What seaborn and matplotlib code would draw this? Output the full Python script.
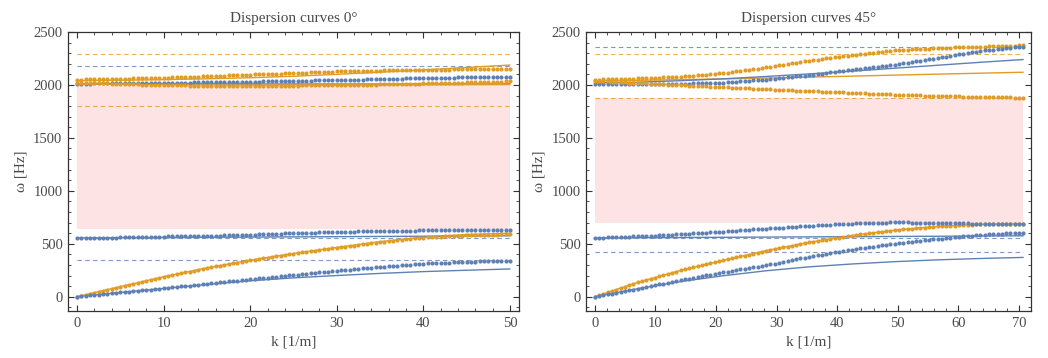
import numpy as np
import seaborn as sns
import matplotlib.pyplot as plt
from matplotlib.ticker import MultipleLocator

# ---- data ----------------------------------------------------------------
# panel 0 degrees: k from 0 to 50, dots every 0.5, lines every 5
k_dots_0 = np.linspace(0, 50, 101)
k_line_0 = np.linspace(0, 50, 11)

orange_low_dots_0 = [
    0, 10, 19, 29, 38, 48, 57, 67, 76, 86,
    95, 104, 114, 123, 132, 142, 151, 160, 169, 179,
    188, 196, 205, 213, 222, 230, 238, 247, 255, 264,
    272, 279, 287, 294, 301, 308, 316, 323, 330, 338,
    345, 351, 358, 364, 370, 377, 383, 389, 395, 402,
    408, 413, 419, 424, 430, 435, 440, 446, 451, 457,
    462, 467, 473, 478, 483, 488, 494, 499, 504, 510,
    515, 519, 524, 528, 532, 537, 541, 545, 550, 554,
    558, 560, 562, 565, 567, 569, 571, 573, 576, 578,
    580, 581, 582, 583, 584, 585, 586, 587, 588, 589,
    590]
blue_low_dots_0 = [
    0, 4, 8, 12, 16, 20, 24, 28, 32, 36,
    40, 44, 48, 52, 56, 60, 64, 68, 72, 76,
    80, 84, 88, 93, 97, 101, 105, 109, 114, 118,
    122, 126, 131, 135, 139, 144, 148, 152, 156, 161,
    165, 169, 173, 177, 181, 185, 189, 193, 197, 201,
    205, 209, 213, 217, 221, 225, 229, 233, 237, 241,
    245, 249, 252, 256, 260, 264, 267, 271, 275, 278,
    282, 285, 288, 291, 294, 297, 300, 303, 306, 309,
    312, 314, 316, 317, 319, 321, 323, 325, 326, 328,
    330, 331, 332, 333, 334, 335, 336, 337, 338, 339,
    340]
blue_mid_dots_0 = [
    553, 553, 554, 555, 556, 556, 557, 558, 559, 559,
    560, 561, 562, 562, 563, 564, 565, 566, 566, 567,
    568, 569, 569, 570, 571, 571, 572, 573, 573, 574,
    575, 576, 577, 578, 579, 580, 581, 582, 583, 584,
    585, 586, 588, 589, 591, 592, 594, 595, 597, 598,
    600, 601, 602, 604, 605, 606, 607, 608, 610, 611,
    612, 613, 614, 614, 615, 616, 617, 618, 618, 619,
    620, 621, 621, 622, 623, 623, 624, 625, 625, 626,
    627, 627, 628, 628, 628, 628, 629, 629, 629, 630,
    630, 630, 630, 631, 631, 631, 631, 632, 632, 632,
    632]
orange_top_dots_0 = [
    2050, 2051, 2052, 2052, 2053, 2054, 2055, 2056, 2056, 2057,
    2058, 2059, 2060, 2061, 2062, 2063, 2064, 2065, 2066, 2067,
    2068, 2069, 2071, 2072, 2074, 2075, 2076, 2078, 2079, 2081,
    2082, 2084, 2085, 2087, 2088, 2090, 2091, 2093, 2094, 2096,
    2097, 2099, 2100, 2102, 2103, 2105, 2106, 2108, 2109, 2111,
    2112, 2114, 2115, 2117, 2118, 2120, 2122, 2123, 2125, 2126,
    2128, 2129, 2130, 2130, 2131, 2132, 2133, 2134, 2134, 2135,
    2136, 2137, 2137, 2138, 2139, 2139, 2140, 2141, 2141, 2142,
    2143, 2143, 2144, 2144, 2145, 2145, 2145, 2146, 2146, 2147,
    2147, 2147, 2148, 2148, 2148, 2148, 2149, 2149, 2149, 2150,
    2150]
blue_top_dots_0 = [
    2012, 2012, 2013, 2013, 2014, 2014, 2014, 2015, 2015, 2015,
    2015, 2016, 2016, 2017, 2017, 2018, 2018, 2019, 2019, 2020,
    2020, 2021, 2021, 2022, 2022, 2023, 2023, 2024, 2024, 2025,
    2025, 2026, 2026, 2027, 2027, 2028, 2029, 2029, 2030, 2030,
    2031, 2032, 2032, 2033, 2034, 2035, 2035, 2036, 2037, 2037,
    2038, 2039, 2039, 2040, 2041, 2042, 2042, 2043, 2044, 2044,
    2045, 2046, 2047, 2048, 2049, 2050, 2051, 2052, 2053, 2054,
    2055, 2056, 2057, 2058, 2059, 2060, 2061, 2062, 2063, 2064,
    2065, 2066, 2066, 2067, 2068, 2069, 2069, 2070, 2071, 2071,
    2072, 2073, 2073, 2074, 2074, 2075, 2076, 2076, 2077, 2077,
    2078]
orange_mid_dots_0 = [
    2022, 2021, 2020, 2018, 2017, 2016, 2015, 2014, 2012, 2011,
    2010, 2009, 2008, 2006, 2005, 2004, 2003, 2002, 2000, 1999,
    1998, 1997, 1997, 1996, 1996, 1995, 1994, 1994, 1993, 1993,
    1992, 1992, 1992, 1992, 1992, 1992, 1992, 1992, 1992, 1992,
    1992, 1992, 1992, 1993, 1993, 1993, 1993, 1993, 1994, 1994,
    1994, 1994, 1995, 1995, 1996, 1996, 1996, 1997, 1997, 1998,
    1998, 1999, 1999, 2000, 2001, 2002, 2002, 2003, 2004, 2004,
    2005, 2006, 2007, 2008, 2009, 2010, 2010, 2011, 2012, 2013,
    2014, 2015, 2016, 2017, 2018, 2019, 2020, 2021, 2022, 2023,
    2024, 2025, 2026, 2027, 2028, 2029, 2030, 2031, 2032, 2033,
    2034]

orange_low_line_0 = [0, 95, 188, 272, 345, 408, 465, 520, 562, 588, 600]
blue_low_line_0 = [0, 40, 78, 115, 150, 178, 200, 220, 237, 250, 262]
blue_mid_line_0 = [555, 557, 559, 561, 563, 565, 567, 569, 571, 573, 575]
orange_top_line_0 = [2040, 2044, 2050, 2058, 2068, 2082, 2100, 2120, 2142, 2165, 2188]
blue_top_line_0 = [2012, 2011, 2010, 2010, 2009, 2009, 2009, 2009, 2009, 2010, 2010]
orange_mid_line_0 = [2010, 2005, 2002, 2000, 1999, 1999, 1999, 1999, 2000, 2001, 2002]

orange_dashed_0 = [2290, 1805]
blue_dashed_0 = [2178, 555, 345]
gap_0 = (635, 1990)

# panel 45 degrees: k from 0 to 50*sqrt(2)
k_dots_45 = np.linspace(0, 70.71, 101)
k_line_45 = np.linspace(0, 70.71, 11)

orange_top_dots_45 = [
    2050, 2051, 2052, 2053, 2054, 2056, 2057, 2058, 2059, 2060,
    2061, 2063, 2064, 2066, 2067, 2069, 2071, 2072, 2074, 2075,
    2077, 2081, 2084, 2088, 2091, 2095, 2098, 2102, 2105, 2109,
    2112, 2117, 2123, 2128, 2134, 2139, 2144, 2150, 2155, 2161,
    2166, 2172, 2178, 2185, 2191, 2197, 2203, 2209, 2216, 2222,
    2228, 2234, 2239, 2245, 2250, 2256, 2261, 2267, 2272, 2278,
    2283, 2287, 2292, 2296, 2301, 2305, 2309, 2314, 2318, 2323,
    2327, 2329, 2331, 2333, 2335, 2338, 2340, 2342, 2344, 2346,
    2348, 2349, 2351, 2352, 2354, 2355, 2356, 2358, 2359, 2361,
    2362, 2363, 2364, 2366, 2367, 2368, 2369, 2370, 2372, 2373,
    2374]
blue_top_dots_45 = [
    2010, 2010, 2010, 2009, 2009, 2009, 2009, 2008, 2008, 2008,
    2008, 2008, 2009, 2009, 2009, 2010, 2010, 2010, 2011, 2011,
    2011, 2012, 2013, 2015, 2016, 2017, 2018, 2019, 2021, 2022,
    2023, 2026, 2029, 2031, 2034, 2037, 2040, 2043, 2045, 2048,
    2051, 2055, 2059, 2064, 2068, 2072, 2076, 2080, 2085, 2089,
    2093, 2098, 2103, 2108, 2113, 2118, 2122, 2127, 2132, 2137,
    2142, 2147, 2152, 2157, 2162, 2167, 2172, 2177, 2182, 2187,
    2192, 2198, 2205, 2211, 2217, 2224, 2230, 2236, 2242, 2249,
    2255, 2262, 2268, 2275, 2282, 2289, 2295, 2302, 2309, 2315,
    2322, 2326, 2330, 2334, 2338, 2342, 2346, 2350, 2354, 2358,
    2362]
orange_mid_dots_45 = [
    2040, 2038, 2036, 2034, 2032, 2030, 2027, 2025, 2023, 2021,
    2019, 2017, 2015, 2013, 2011, 2009, 2006, 2004, 2002, 2000,
    1998, 1996, 1994, 1992, 1990, 1989, 1987, 1985, 1983, 1981,
    1979, 1977, 1975, 1973, 1971, 1969, 1967, 1965, 1963, 1961,
    1959, 1957, 1956, 1954, 1952, 1951, 1949, 1947, 1945, 1944,
    1942, 1940, 1939, 1937, 1936, 1934, 1932, 1931, 1929, 1928,
    1926, 1924, 1923, 1921, 1919, 1918, 1916, 1914, 1912, 1911,
    1909, 1908, 1906, 1905, 1903, 1902, 1901, 1899, 1898, 1896,
    1895, 1894, 1893, 1892, 1891, 1891, 1890, 1889, 1888, 1887,
    1886, 1885, 1885, 1884, 1884, 1883, 1882, 1882, 1881, 1881,
    1880]
blue_mid_dots_45 = [
    555, 557, 558, 560, 561, 563, 564, 566, 567, 569,
    570, 572, 574, 576, 578, 580, 582, 584, 586, 588,
    590, 593, 595, 598, 600, 603, 605, 608, 610, 613,
    615, 618, 621, 623, 626, 629, 632, 635, 637, 640,
    643, 646, 648, 651, 653, 656, 659, 661, 664, 666,
    669, 671, 673, 676, 678, 680, 682, 684, 687, 689,
    691, 692, 693, 694, 695, 697, 698, 699, 700, 701,
    702, 702, 701, 701, 700, 700, 700, 699, 699, 698,
    698, 697, 696, 695, 694, 694, 693, 692, 691, 690,
    689, 689, 688, 688, 688, 687, 687, 687, 686, 686,
    686]
orange_low_dots_45 = [
    0, 14, 27, 41, 54, 68, 81, 95, 108, 122,
    135, 146, 158, 169, 180, 192, 203, 214, 225, 237,
    248, 258, 267, 277, 286, 296, 305, 315, 324, 334,
    343, 352, 361, 371, 380, 389, 398, 407, 417, 426,
    435, 443, 451, 458, 466, 474, 482, 490, 497, 505,
    513, 520, 526, 533, 539, 546, 552, 559, 565, 572,
    578, 583, 588, 593, 598, 603, 608, 613, 618, 623,
    628, 632, 635, 639, 642, 646, 650, 653, 657, 660,
    664, 666, 668, 670, 672, 674, 676, 678, 680, 682,
    684, 685, 685, 686, 686, 687, 688, 688, 689, 689,
    690]
blue_low_dots_45 = [
    0, 8, 15, 23, 30, 38, 46, 53, 61, 68,
    76, 84, 92, 100, 108, 116, 124, 132, 140, 148,
    156, 164, 171, 179, 186, 194, 201, 209, 216, 224,
    231, 238, 244, 251, 257, 264, 271, 277, 284, 290,
    297, 305, 313, 321, 329, 338, 346, 354, 362, 370,
    378, 385, 391, 398, 405, 412, 418, 425, 432, 438,
    445, 451, 456, 462, 467, 473, 478, 484, 489, 495,
    500, 505, 509, 514, 518, 523, 527, 532, 536, 541,
    545, 549, 553, 557, 561, 565, 569, 573, 577, 581,
    585, 587, 589, 591, 593, 596, 598, 600, 602, 604,
    606]

orange_low_line_45 = [0, 135, 248, 343, 435, 513, 578, 628, 664, 684, 690]
blue_low_line_45 = [0, 76, 143, 198, 245, 282, 309, 331, 348, 361, 371]
blue_mid_line_45 = [555, 557, 559, 561, 563, 565, 567, 569, 571, 573, 575]
blue_top_line_45 = [2020, 2026, 2040, 2058, 2080, 2104, 2130, 2158, 2186, 2214, 2240]
orange_top_line_45 = [2040, 2044, 2050, 2057, 2065, 2074, 2083, 2093, 2102, 2111, 2120]

orange_dashed_45 = [2290, 1880]
blue_dashed_45 = [2355, 552, 420]
gap_45 = (700, 1875)

# ---- style -----------------------------------------------------------------
BLUE = "#5e81b5"
ORANGE = "#e19c24"
PINK = "#fde3e3"
TXT = "#4a4a4a"

sns.set_theme(style="ticks")
plt.rcParams["font.family"] = ["Liberation Serif", "DejaVu Serif"]
plt.rcParams["text.color"] = TXT
plt.rcParams["axes.labelcolor"] = TXT
plt.rcParams["xtick.color"] = "#333333"
plt.rcParams["ytick.color"] = "#333333"
plt.rcParams["xtick.labelcolor"] = TXT
plt.rcParams["ytick.labelcolor"] = TXT

fig = plt.figure(figsize=(10.48, 3.58), dpi=100)
ax0 = fig.add_axes([0.0649, 0.1313, 0.4303, 0.7793])
ax1 = fig.add_axes([0.5592, 0.1313, 0.4246, 0.7793])


def draw_panel(ax, k_dots, k_line, dots, lines, o_dash, b_dash, gap, kmax, title):
    ax.fill_between([0, kmax], gap[0], gap[1], color=PINK, lw=0, zorder=0)
    ax.hlines(o_dash, 0, kmax, colors=ORANGE, linestyles=(0, (4, 3)), lw=0.8, alpha=0.8, zorder=1)
    ax.hlines(b_dash, 0, kmax, colors=BLUE, linestyles=(0, (4, 3)), lw=0.8, alpha=0.8, zorder=1)
    for vals, col in lines:
        sns.lineplot(x=k_line, y=vals, color=col, lw=1.0, ax=ax, zorder=2)
    for vals, col in dots:
        sns.scatterplot(x=k_dots, y=vals, color=col, s=9, linewidth=0, ax=ax, zorder=3)

    ax.set_title(title, fontsize=11, color=TXT, pad=7)
    ax.set_xlabel("k [1/m]", fontsize=11, labelpad=4)
    ax.set_ylabel("ω [Hz]", fontsize=11, labelpad=4)
    ax.set_ylim(-135, 2500)
    ax.xaxis.set_major_locator(MultipleLocator(10))
    ax.xaxis.set_minor_locator(MultipleLocator(2))
    ax.yaxis.set_major_locator(MultipleLocator(500))
    ax.yaxis.set_minor_locator(MultipleLocator(100))
    ax.tick_params(which="both", direction="in", top=True, right=True, labelsize=10.5, pad=4)
    ax.tick_params(which="major", length=4, width=0.8)
    ax.tick_params(which="minor", length=2, width=0.6)
    for sp in ax.spines.values():
        sp.set_color("#333333")
        sp.set_linewidth(0.9)


draw_panel(
    ax0, k_dots_0, k_line_0,
    [(orange_low_dots_0, ORANGE), (blue_low_dots_0, BLUE), (blue_mid_dots_0, BLUE),
     (orange_top_dots_0, ORANGE), (blue_top_dots_0, BLUE), (orange_mid_dots_0, ORANGE)],
    [(orange_low_line_0, ORANGE), (blue_low_line_0, BLUE), (blue_mid_line_0, BLUE),
     (orange_top_line_0, ORANGE), (blue_top_line_0, BLUE), (orange_mid_line_0, ORANGE)],
    orange_dashed_0, blue_dashed_0, gap_0, 50, "Dispersion curves 0°")
ax0.set_xlim(-1.04, 51.04)

draw_panel(
    ax1, k_dots_45, k_line_45,
    [(orange_low_dots_45, ORANGE), (blue_low_dots_45, BLUE), (blue_mid_dots_45, BLUE),
     (orange_top_dots_45, ORANGE), (blue_top_dots_45, BLUE), (orange_mid_dots_45, ORANGE)],
    [(orange_low_line_45, ORANGE), (blue_low_line_45, BLUE), (blue_mid_line_45, BLUE),
     (orange_top_line_45, ORANGE), (blue_top_line_45, BLUE)],
    orange_dashed_45, blue_dashed_45, gap_45, 70.71, "Dispersion curves 45°")
ax1.set_xlim(-1.45, 72.0)

fig.savefig("out.png", dpi=100)
